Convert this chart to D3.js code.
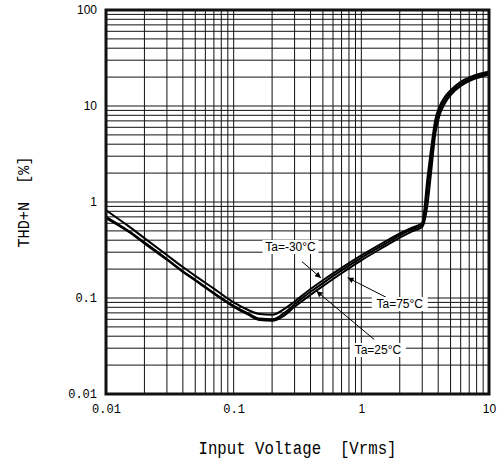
<!DOCTYPE html>
<meta charset="utf-8">

<!-- Load d3.js -->
<script src="https://d3js.org/d3.v7.min.js"></script>

<style>
  body { margin: 0; background: #fff; }
</style>

<svg id="chart" width="498" height="461"></svg>

<script>

// Data (Input Voltage [Vrms] vs THD+N [%])
const voltage = [0.01, 0.015, 0.02, 0.03, 0.04, 0.05, 0.07, 0.1, 0.13, 0.16, 0.2, 0.25, 0.3, 0.4, 0.5, 0.7, 1, 1.5, 2, 2.5, 3.0, 3.3, 3.5, 3.8, 4.1, 4.5, 5, 6, 7, 8, 10];
const thdMinus30 = [0.82, 0.56, 0.42, 0.28, 0.21, 0.17, 0.125, 0.09, 0.075, 0.068, 0.067, 0.077, 0.092, 0.124, 0.153, 0.206, 0.278, 0.38, 0.47, 0.54, 0.61, 1.8, 3.4, 7.2, 9.9, 12.4, 14.6, 17.9, 19.9, 21.2, 22.9];
const thd25 = [0.70, 0.50, 0.38, 0.255, 0.19, 0.155, 0.113, 0.083, 0.069, 0.061, 0.06, 0.07, 0.086, 0.116, 0.143, 0.194, 0.262, 0.36, 0.45, 0.52, 0.58, 1.35, 2.6, 6.2, 9.0, 11.5, 13.8, 17.0, 19.0, 20.3, 22.1];
const thd75 = [0.68, 0.49, 0.37, 0.25, 0.187, 0.152, 0.111, 0.081, 0.067, 0.059, 0.058, 0.066, 0.081, 0.108, 0.133, 0.181, 0.247, 0.34, 0.425, 0.495, 0.55, 0.95, 1.9, 5.2, 8.0, 10.6, 13.0, 16.2, 18.2, 19.5, 21.3];

const series = [
  { name: "Ta=-30°C", values: thdMinus30 },
  { name: "Ta=25°C", values: thd25 },
  { name: "Ta=75°C", values: thd75 }
];

// tick labels
const xTicks = [0.01, 0.1, 1, 10];
const xTickLabels = ["0.01", "0.1", "1", "10"];
const yTicks = [0.01, 0.1, 1, 10, 100];
const yTickLabels = ["0.01", "0.1", "1", "10", "100"];

// annotations: label position and arrow (data coords)
const labelNames = ["Ta=-30°C", "Ta=75°C", "Ta=25°C"];
const labelAt = [[0.2785, 0.34], [2.0, 0.0866], [1.349, 0.0287]];
const arrowFrom = [[0.343, 0.239], [1.73, 0.095], [1.26, 0.037]];
const arrowTo = [[0.483, 0.162], [0.78, 0.163], [0.445, 0.118]];

const svg = d3.select("#chart");

const x = d3.scaleLog().domain([0.01, 10]).range([106, 489]);
const y = d3.scaleLog().domain([0.01, 100]).range([394, 10]);

// grid
svg.append("g")
  .selectAll("line")
  .data(x.ticks())
  .join("line")
    .attr("x1", d => x(d)).attr("x2", d => x(d))
    .attr("y1", y(100)).attr("y2", y(0.01))
    .attr("stroke", "#111")
    .attr("stroke-width", 1);

svg.append("g")
  .selectAll("line")
  .data(y.ticks())
  .join("line")
    .attr("x1", x(0.01)).attr("x2", x(10))
    .attr("y1", d => y(d)).attr("y2", d => y(d))
    .attr("stroke", "#111")
    .attr("stroke-width", 1);

// curves
const line = d3.line()
  .x((d, i) => x(voltage[i]))
  .y(d => y(d))
  .curve(d3.curveMonotoneX);

svg.append("g")
  .selectAll("path")
  .data(series)
  .join("path")
    .attr("d", d => line(d.values))
    .attr("fill", "none")
    .attr("stroke", "#000")
    .attr("stroke-width", 2);

// frame
svg.append("rect")
  .attr("x", x(0.01)).attr("y", y(100))
  .attr("width", x(10) - x(0.01))
  .attr("height", y(0.01) - y(100))
  .attr("fill", "none")
  .attr("stroke", "#111")
  .attr("stroke-width", 3);

// axes (labels only)
const monoFont = "'Liberation Mono', 'DejaVu Sans Mono', monospace";
const sansFont = "'Liberation Sans', Arial, sans-serif";

const xAxis = svg.append("g")
  .attr("transform", `translate(0,${y(0.01)})`)
  .call(d3.axisBottom(x).tickValues(xTicks).tickFormat((d, i) => xTickLabels[i]).tickSize(0).tickPadding(10));
xAxis.select(".domain").remove();
xAxis.selectAll("text")
  .attr("fill", "#000")
  .style("font-family", d => d < 1 ? monoFont : sansFont)
  .style("font-size", "12px");

const yAxis = svg.append("g")
  .attr("transform", `translate(${x(0.01)},0)`)
  .call(d3.axisLeft(y).tickValues(yTicks).tickFormat((d, i) => yTickLabels[i]).tickSize(0).tickPadding(9));
yAxis.select(".domain").remove();
yAxis.selectAll("text")
  .attr("fill", "#000")
  .style("font-family", d => d < 1 ? monoFont : sansFont)
  .style("font-size", "12px");

// axis titles
svg.append("text")
  .attr("x", (x(0.01) + x(10)) / 2)
  .attr("y", 454)
  .attr("text-anchor", "middle")
  .attr("textLength", 198)
  .attr("lengthAdjust", "spacingAndGlyphs")
  .style("font-family", monoFont)
  .style("font-size", "18px")
  .style("white-space", "pre")
  .text("Input Voltage  [Vrms]");

svg.append("text")
  .attr("transform", `translate(29,${(y(100) + y(0.01)) / 2}) rotate(-90)`)
  .attr("text-anchor", "middle")
  .attr("textLength", 91)
  .attr("lengthAdjust", "spacingAndGlyphs")
  .style("font-family", monoFont)
  .style("font-size", "17px")
  .style("white-space", "pre")
  .text("THD+N  [%]");

// arrowhead
svg.append("defs").append("marker")
  .attr("id", "arrow")
  .attr("viewBox", "0 0 10 10")
  .attr("refX", 10).attr("refY", 5)
  .attr("markerWidth", 8).attr("markerHeight", 6)
  .attr("markerUnits", "userSpaceOnUse")
  .attr("orient", "auto")
  .append("path")
    .attr("d", "M0,0L10,5L0,10Z")
    .attr("fill", "#000");

const ann = svg.append("g");

ann.selectAll("line")
  .data(labelNames)
  .join("line")
    .attr("x1", (d, i) => x(arrowFrom[i][0]))
    .attr("y1", (d, i) => y(arrowFrom[i][1]))
    .attr("x2", (d, i) => x(arrowTo[i][0]))
    .attr("y2", (d, i) => y(arrowTo[i][1]))
    .attr("stroke", "#000")
    .attr("stroke-width", 1)
    .attr("marker-end", "url(#arrow)");

const labels = ann.selectAll("g.lab")
  .data(labelNames)
  .join("g")
    .attr("class", "lab")
    .attr("transform", (d, i) => `translate(${x(labelAt[i][0])},${y(labelAt[i][1])})`);

labels.append("rect")
  .attr("x", -28).attr("y", -7)
  .attr("width", 56).attr("height", 14)
  .attr("fill", "#fff");

labels.append("text")
  .attr("text-anchor", "middle")
  .attr("dy", "0.36em")
  .style("font-family", sansFont)
  .style("font-size", "12px")
  .text(d => d);

</script>
